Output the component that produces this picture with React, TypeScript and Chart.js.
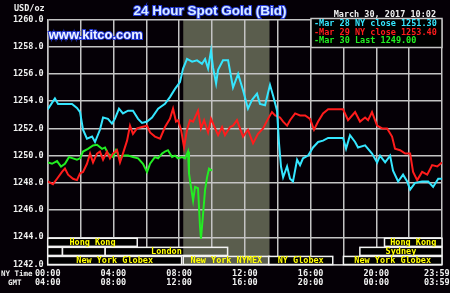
import React, { useEffect, useRef } from "react";
import { Chart, registerables } from "chart.js";

Chart.register(...registerables);

// ---- data (hours since 00:00 NY time, price USD/oz) ----
const mar28Points: [number, number][] = [
  [0, 1253.4], [0.44, 1254.2], [0.63, 1253.8], [1.48, 1253.8], [1.78, 1253.5], [1.97, 1253.2],
  [2.15, 1251.9], [2.39, 1251.25], [2.7, 1251.4], [2.88, 1251.0], [3.18, 1251.9], [3.37, 1252.8],
  [3.67, 1252.7], [3.91, 1252.35], [4.09, 1252.7], [4.34, 1253.45], [4.58, 1253.1], [4.89, 1253.3],
  [5.19, 1253.3], [5.5, 1252.7], [5.74, 1252.4], [6.05, 1252.5], [6.35, 1252.8], [6.72, 1253.45],
  [7.14, 1253.8], [7.44, 1254.3], [7.75, 1254.9], [8.05, 1255.4], [8.24, 1256.4], [8.48, 1257.1],
  [8.79, 1256.9], [9.09, 1257.0], [9.39, 1256.75], [9.58, 1257.1], [9.76, 1256.4], [9.94, 1257.7],
  [10.06, 1256.5], [10.25, 1255.3], [10.37, 1256.3], [10.67, 1257.0], [10.98, 1257.0], [11.28, 1255.0],
  [11.59, 1256.0], [11.89, 1254.8], [12.19, 1253.45], [12.44, 1254.1], [12.74, 1254.55], [12.92, 1253.8],
  [13.23, 1253.7], [13.53, 1255.2], [13.72, 1254.4], [13.96, 1253.3], [14.08, 1250.9], [14.2, 1249.2],
  [14.33, 1248.4], [14.57, 1249.2], [14.75, 1248.3], [14.93, 1248.1], [15.18, 1249.7], [15.36, 1249.3],
  [15.54, 1249.8], [15.85, 1250.0], [16.15, 1250.6], [16.46, 1251.0], [16.76, 1251.1], [17.07, 1251.3],
  [17.98, 1251.3], [18.16, 1250.5], [18.4, 1251.5], [18.71, 1251.0], [18.89, 1250.6], [19.32, 1250.75],
  [19.74, 1250.15], [20.05, 1249.5], [20.23, 1250.0], [20.54, 1249.5], [20.84, 1250.0], [21.02, 1248.9],
  [21.33, 1248.1], [21.63, 1248.6], [21.88, 1248.1], [22.06, 1247.5], [22.36, 1248.0], [22.79, 1248.1],
  [23.16, 1248.1], [23.46, 1247.7], [23.77, 1248.3], [24, 1248.3],
];

const mar29Points: [number, number][] = [
  [0, 1248.1], [0.32, 1247.9], [0.57, 1248.3], [0.87, 1248.8], [1.05, 1249.05], [1.24, 1248.6],
  [1.54, 1248.3], [1.78, 1248.2], [1.97, 1248.7], [2.15, 1248.8], [2.39, 1249.4], [2.58, 1250.15],
  [2.76, 1249.5], [3.0, 1250.15], [3.18, 1250.3], [3.37, 1249.7], [3.61, 1250.3], [3.79, 1249.8],
  [3.97, 1250.15], [4.22, 1250.4], [4.4, 1249.5], [4.58, 1250.15], [4.83, 1251.1], [5.01, 1252.2],
  [5.19, 1251.6], [5.44, 1252.0], [5.74, 1252.1], [6.05, 1252.2], [6.23, 1251.7], [6.53, 1251.4],
  [6.84, 1251.25], [7.14, 1252.1], [7.44, 1252.7], [7.63, 1253.45], [7.81, 1252.5], [7.93, 1252.6],
  [8.12, 1251.9], [8.3, 1250.6], [8.48, 1251.9], [8.66, 1252.6], [8.85, 1252.5], [9.15, 1253.3],
  [9.33, 1252.0], [9.52, 1252.6], [9.76, 1251.7], [9.94, 1252.7], [10.19, 1252.0], [10.37, 1251.5],
  [10.61, 1252.1], [10.79, 1251.5], [11.1, 1252.1], [11.28, 1252.2], [11.52, 1252.6], [11.89, 1251.4],
  [12.19, 1251.9], [12.5, 1250.9], [12.8, 1251.6], [13.11, 1252.0], [13.41, 1252.7], [13.65, 1253.2],
  [13.84, 1252.95], [14.14, 1252.8], [14.33, 1252.5], [14.57, 1252.2], [14.75, 1252.6], [15.06, 1253.1],
  [15.36, 1252.95], [15.67, 1252.95], [15.97, 1252.7], [16.21, 1251.9], [16.46, 1252.5], [16.76, 1253.1],
  [17.07, 1253.4], [17.98, 1253.4], [18.28, 1252.6], [18.71, 1253.2], [19.01, 1252.5], [19.32, 1252.8],
  [19.5, 1252.6], [19.74, 1253.2], [20.05, 1252.2], [20.36, 1252.0], [20.66, 1252.0], [20.96, 1251.4],
  [21.14, 1250.5], [21.45, 1250.4], [21.76, 1250.15], [22.06, 1250.15], [22.24, 1248.8], [22.49, 1248.2],
  [22.79, 1248.8], [23.1, 1248.6], [23.4, 1249.3], [23.71, 1249.2], [24, 1249.5],
];

const mar30Points: [number, number][] = [
  [0, 1249.5], [0.26, 1249.4], [0.57, 1249.6], [0.81, 1249.2], [1.05, 1249.4], [1.3, 1249.9],
  [1.54, 1249.8], [1.78, 1249.7], [1.97, 1249.8], [2.15, 1250.3], [2.45, 1250.5], [2.76, 1250.75],
  [3.0, 1250.8], [3.31, 1250.5], [3.49, 1250.6], [3.67, 1250.15], [3.97, 1249.9], [4.16, 1250.4],
  [4.4, 1249.8], [4.58, 1250.0], [4.89, 1250.0], [5.19, 1249.9], [5.5, 1249.8], [5.8, 1249.4],
  [6.05, 1248.8], [6.23, 1249.4], [6.53, 1249.9], [6.72, 1249.8], [6.96, 1250.15], [7.14, 1250.3],
  [7.32, 1250.4], [7.57, 1249.9], [7.75, 1250.0], [7.93, 1249.8], [8.18, 1249.9], [8.36, 1249.8],
  [8.54, 1250.3], [8.6, 1248.7], [8.72, 1247.7], [8.85, 1246.7], [8.97, 1247.7], [9.15, 1247.6],
  [9.27, 1244.8], [9.33, 1243.9], [9.46, 1245.75], [9.58, 1247.5], [9.7, 1248.4], [9.82, 1249.05],
  [10.0, 1248.9],
];

const seriesLabels = ["-Mar 28 NY close 1251.30", "-Mar 29 NY close 1253.40", "-Mar 30 Last 1249.00"];
const seriesColors = ["#35e6ff", "#ff1c1c", "#22ee22"];

const xTickHours = [0, 4, 8, 12, 16, 20, 24];
const xTickNY = ["00:00", "04:00", "08:00", "12:00", "16:00", "20:00", "23:59  "];
const xTickGMT = ["04:00", "08:00", "12:00", "16:00", "20:00", "00:00", "03:59  "];

const yMin = 1242;
const yMax = 1260;
const yStep = 2;

// market sessions: name, start hour, end hour, row (0 = top)
const sessionNames = ["Hong Kong", "", "", "London", "New York Globex", "New York NYMEX", "NY Globex", "Hong Kong", "Sydney", "New York Globex"];
const sessionStart = [0, 0, 0.9, 3.5, 0, 8.25, 13.45, 20.5, 19.0, 18.0];
const sessionEnd = [5.45, 0.9, 3.5, 10.95, 8.15, 13.5, 17.35, 24, 24, 24];
const sessionRow = [0, 1, 1, 1, 2, 2, 2, 0, 1, 2];

const nymexStart = 8.25;
const nymexEnd = 13.5;

const titleText = "24 Hour Spot Gold (Bid)";
const siteText = "www.kitco.com";
const dateText = "March 30, 2017 10:02";
const unitText = "USD/oz";

const MONO = "'DejaVu Sans Mono', 'Liberation Mono', monospace";
const BAND_COLOR = "#5a5d4d";
const GRID_COLOR = "#c4c4c4";

const decorPlugin = {
  id: "kitcoDecor",
  beforeDraw(chart: any) {
    const { ctx, chartArea, scales } = chart;
    ctx.save();
    ctx.fillStyle = "#050006";
    ctx.fillRect(0, 0, chart.width, chart.height);
    const x1 = scales.x.getPixelForValue(nymexStart);
    const x2 = scales.x.getPixelForValue(nymexEnd);
    ctx.fillStyle = BAND_COLOR;
    ctx.fillRect(x1, chartArea.top, x2 - x1, chartArea.bottom - chartArea.top);
    ctx.restore();
  },
  beforeDatasetsDraw(chart: any) {
    const { ctx, scales } = chart;
    const xs = scales.x;
    const ys = scales.y;
    const bx1 = xs.getPixelForValue(nymexStart);
    const bx2 = xs.getPixelForValue(nymexEnd);
    const rowH = 2 / 3;
    ctx.save();
    for (let i = 0; i < sessionNames.length; i++) {
      const x1 = xs.getPixelForValue(sessionStart[i]);
      const x2 = xs.getPixelForValue(sessionEnd[i]);
      const top = ys.getPixelForValue(1244 - sessionRow[i] * rowH) + 1;
      const bot = ys.getPixelForValue(1244 - (sessionRow[i] + 1) * rowH);
      ctx.fillStyle = "#000000";
      ctx.fillRect(x1, top, x2 - x1, bot - top);
      const ix1 = Math.max(x1, bx1);
      const ix2 = Math.min(x2, bx2);
      if (ix2 > ix1) {
        ctx.fillStyle = BAND_COLOR;
        ctx.fillRect(ix1, top, ix2 - ix1, bot - top);
      }
      ctx.strokeStyle = "#f2f2f2";
      ctx.lineWidth = 1.5;
      ctx.strokeRect(x1, top, x2 - x1, bot - top);
      if (sessionNames[i]) {
        ctx.fillStyle = "#ffff00";
        ctx.font = `bold 8.5px ${MONO}`;
        ctx.textAlign = "center";
        ctx.textBaseline = "middle";
        ctx.fillText(sessionNames[i], (x1 + x2) / 2, (top + bot) / 2 + 0.5);
      }
    }
    ctx.restore();
  },
  afterDraw(chart: any) {
    const { ctx, chartArea } = chart;
    ctx.save();
    // title
    ctx.font = "bold 13.5px 'Liberation Sans', Arial, sans-serif";
    ctx.textAlign = "center";
    ctx.textBaseline = "middle";
    ctx.lineWidth = 2;
    ctx.strokeStyle = "#2438d8";
    ctx.strokeText(titleText, 210, 11);
    ctx.fillStyle = "#d8ecff";
    ctx.fillText(titleText, 210, 11);
    // site
    ctx.font = "bold 13px 'Liberation Sans', Arial, sans-serif";
    ctx.textAlign = "left";
    ctx.strokeStyle = "#2438d8";
    ctx.strokeText(siteText, chartArea.left + 1, 35);
    ctx.fillStyle = "#eef4ff";
    ctx.fillText(siteText, chartArea.left + 1, 35);
    // unit
    ctx.font = `bold 8.5px ${MONO}`;
    ctx.fillStyle = "#f0f0f0";
    ctx.fillText(unitText, 14, 9);
    // date
    ctx.textAlign = "right";
    ctx.fillText(dateText, 436, 14.5);
    // legend box
    const lx = 311;
    const ly = chartArea.top - 1;
    const lw = chartArea.right - lx;
    const lh = 29;
    ctx.fillStyle = "#000000";
    ctx.fillRect(lx, ly, lw, lh);
    ctx.strokeStyle = GRID_COLOR;
    ctx.lineWidth = 1.5;
    ctx.strokeRect(lx, ly, lw, lh);
    ctx.textAlign = "left";
    for (let i = 0; i < seriesLabels.length; i++) {
      ctx.fillStyle = seriesColors[i];
      ctx.fillText(seriesLabels[i], 314, ly + 5.5 + i * 8.6);
    }
    // axis row captions
    ctx.fillStyle = "#f0f0f0";
    ctx.font = `bold 7.5px ${MONO}`;
    ctx.fillText("NY Time", 1, 274);
    ctx.fillText("GMT", 8, 283.5);
    ctx.restore();
  },
};

export default function App() {
  const canvasRef = useRef<HTMLCanvasElement | null>(null);

  useEffect(() => {
    document.body.style.margin = "0";
    document.body.style.background = "#000";
    const canvas = canvasRef.current;
    if (!canvas) return;
    const toXY = (pts: [number, number][]) => pts.map(([x, y]) => ({ x, y }));
    const chart = new Chart(canvas, {
      type: "line",
      data: {
        datasets: [mar28Points, mar29Points, mar30Points].map((pts, i) => ({
          label: seriesLabels[i],
          data: toXY(pts),
          borderColor: seriesColors[i],
          backgroundColor: seriesColors[i],
          borderWidth: 2,
          pointRadius: 0,
          tension: 0,
          fill: false,
        })),
      },
      options: {
        responsive: false,
        animation: false,
        events: [],
        layout: { padding: { top: 19.5, right: 8, left: 0, bottom: 0 } },
        plugins: {
          legend: { display: false },
          title: { display: false },
          tooltip: { enabled: false },
        },
        scales: {
          x: {
            type: "linear",
            min: 0,
            max: 24,
            grid: { color: GRID_COLOR, lineWidth: 1.5, drawTicks: false },
            border: { color: GRID_COLOR, width: 1.5 },
            ticks: {
              stepSize: 2,
              autoSkip: false,
              maxRotation: 0,
              padding: 4,
              color: "#f0f0f0",
              font: { family: MONO, size: 8.5, weight: "bold", lineHeight: 1.15 },
              callback: (v: any) => {
                const idx = xTickHours.indexOf(Number(v));
                return idx >= 0 ? [xTickNY[idx], xTickGMT[idx]] : "";
              },
            },
            afterFit: (s: any) => {
              s.height = 28.5;
              s.paddingLeft = 0;
              s.paddingRight = 0;
            },
          },
          y: {
            type: "linear",
            min: yMin,
            max: yMax,
            grid: { color: GRID_COLOR, lineWidth: 1.5, drawTicks: false },
            border: { color: GRID_COLOR, width: 1.5 },
            ticks: {
              stepSize: yStep,
              padding: 4,
              color: "#f0f0f0",
              font: { family: MONO, size: 8.5, weight: "bold" },
              callback: (v: any) => Number(v).toFixed(1),
            },
            afterFit: (s: any) => {
              s.width = 47.7;
              s.paddingTop = 0;
              s.paddingBottom = 0;
            },
          },
        },
      },
      plugins: [decorPlugin],
    } as any);
    return () => chart.destroy();
  }, []);

  return (
    <div style={{ width: 450, height: 293, background: "#000" }}>
      <canvas ref={canvasRef} width={450} height={293} style={{ display: "block" }} />
    </div>
  );
}
